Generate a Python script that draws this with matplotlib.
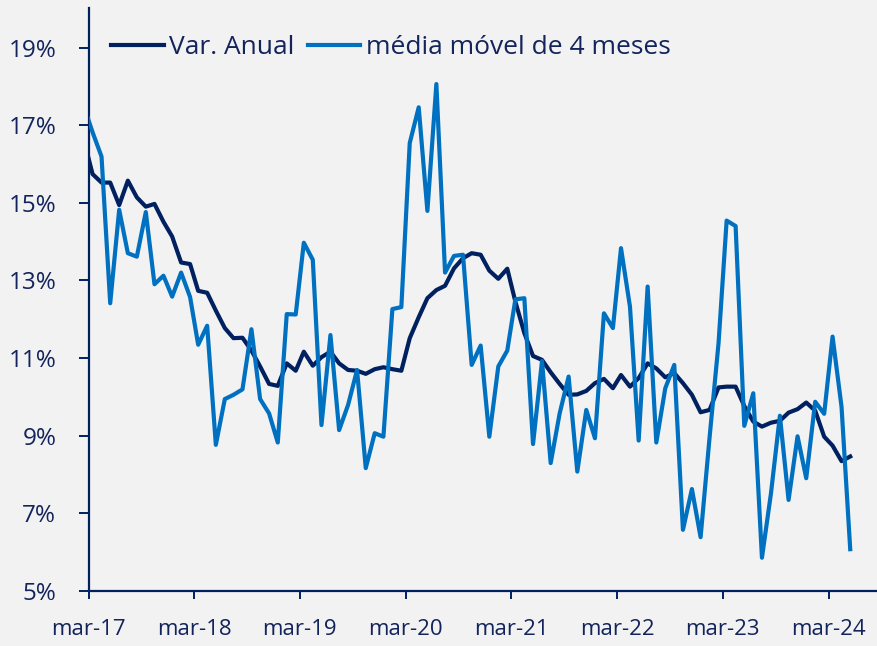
import matplotlib
matplotlib.use("Agg")
import matplotlib.pyplot as plt
import numpy as np
import pandas as pd

# Monthly data, Feb-2017 .. May-2024 (points plotted mid-month; axis starts 1 Mar 2017)
start_month = "2017-02-01"
end_month = "2024-05-01"

var_anual = [
    16.56,
    15.74, 15.52, 15.52, 14.94, 15.57, 15.14, 14.90, 14.97, 14.51, 14.13, 13.46, 13.42,
    12.73, 12.68, 12.22, 11.77, 11.51, 11.52, 11.19, 10.78, 10.33, 10.28, 10.86, 10.67,
    11.16, 10.80, 11.02, 11.16, 10.86, 10.69, 10.67, 10.59, 10.71, 10.76, 10.71, 10.67,
    11.51, 12.05, 12.54, 12.75, 12.86, 13.31, 13.57, 13.70, 13.66, 13.25, 13.04, 13.30,
    12.45, 11.64, 11.05, 10.95, 10.63, 10.33, 10.05, 10.06, 10.15, 10.35, 10.46, 10.22,
    10.56, 10.26, 10.48, 10.86, 10.73, 10.50, 10.61, 10.35, 10.05, 9.60, 9.66, 10.24,
    10.26, 10.26, 9.76, 9.36, 9.23, 9.33, 9.38, 9.59, 9.68, 9.85, 9.64, 8.97,
    8.74, 8.34, 8.46,
]

media_movel = [
    17.44,
    16.82, 16.19, 12.41, 14.82, 13.70, 13.61, 14.76, 12.90, 13.12, 12.58, 13.20, 12.57,
    11.34, 11.83, 8.76, 9.94, 10.05, 10.19, 11.74, 9.94, 9.57, 8.82, 12.13, 12.12,
    13.97, 13.53, 9.27, 11.59, 9.14, 9.79, 10.69, 8.16, 9.06, 8.97, 12.26, 12.31,
    16.54, 17.46, 14.79, 18.06, 13.20, 13.63, 13.66, 10.82, 11.32, 8.97, 10.78, 11.19,
    12.51, 12.54, 8.78, 10.92, 8.29, 9.57, 10.52, 8.07, 9.66, 8.93, 12.15, 11.77,
    13.83, 12.32, 8.87, 12.84, 8.82, 10.22, 10.82, 6.57, 7.62, 6.38, 8.95, 11.38,
    14.54, 14.40, 9.25, 10.09, 5.85, 7.50, 9.51, 7.34, 8.98, 7.90, 9.87, 9.56,
    11.55, 9.74, 6.07,
]

tick_labels = ["mar-17", "mar-18", "mar-19", "mar-20", "mar-21", "mar-22", "mar-23", "mar-24"]
y_ticks = [5, 7, 9, 11, 13, 15, 17, 19]

dates = pd.date_range(start_month, end_month, freq="MS") + pd.Timedelta(days=14)

BG = "#F2F2F2"
NAVY = "#002060"
BLUE = "#0070C0"
TXT = "#13235B"

plt.rcParams["font.family"] = ["Open Sans", "DejaVu Sans"]

fig = plt.figure(figsize=(8.78, 6.46), dpi=100, facecolor=BG)
ax = fig.add_axes([0.1008, 0.0856, 0.8992, 0.902])
ax.set_facecolor(BG)

ax.plot(dates, var_anual, color=NAVY, lw=3.0, label="Var. Anual", zorder=3)
ax.plot(dates, media_movel, color=BLUE, lw=3.0, label="média móvel de 4 meses", zorder=4)

ax.set_xlim(pd.Timestamp("2017-03-01"), pd.Timestamp("2024-08-19"))
ax.set_ylim(5, 20.02)

tick_dates = pd.date_range("2017-03-01", periods=len(tick_labels), freq="12MS")
ax.set_xticks(tick_dates)
ax.set_xticklabels(tick_labels)
ax.set_yticks(y_ticks)
ax.set_yticklabels([f"{v}%" for v in y_ticks])

for s in ["top", "right"]:
    ax.spines[s].set_visible(False)
for s in ["left", "bottom"]:
    ax.spines[s].set_color(NAVY)
    ax.spines[s].set_linewidth(1.6)

ax.tick_params(axis="y", direction="out", length=7.2, width=1.4, color=NAVY,
               labelsize=17.5, labelcolor=TXT, pad=16)
ax.tick_params(axis="x", direction="out", length=5.5, width=1.4, color=NAVY,
               labelsize=16, labelcolor=TXT, pad=15)

leg = fig.legend(loc="center left", bbox_to_anchor=(0.1264, 0.926), ncol=2,
                 frameon=False, fontsize=19, handlelength=2.0, handletextpad=0.2,
                 columnspacing=0.5, borderpad=0, borderaxespad=0)
for t in leg.get_texts():
    t.set_color(TXT)

fig.savefig("out.png", dpi=100, facecolor=BG)
